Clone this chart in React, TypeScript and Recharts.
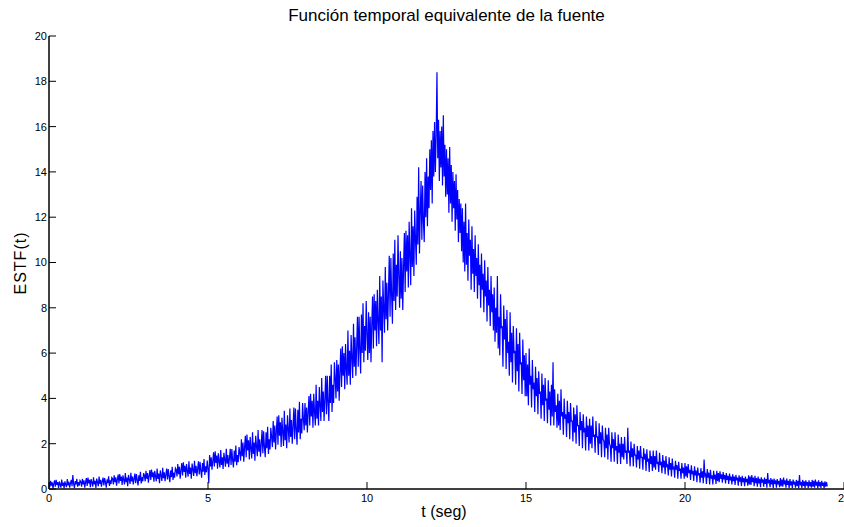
import { LineChart, Line, XAxis, YAxis } from 'recharts'

// sample step of the record (seconds)
const DT = 0.025

// ESTF(t), one row per second
const riseEarly = [
  0.25, 0.08, 0.36, 0.15, 0.3, 0.02, 0.24, 0.38, 0.1, 0.4, 0.18, 0.3, 0.05, 0.33, 0.2, 0.06, 0.42, 0.14, 0.28, 0.03,
  0.34, 0.2, 0.08, 0.44, 0.16, 0.32, 0.06, 0.26, 0.4, 0.12, 0.62, 0.22, 0.04, 0.35, 0.2, 0.45, 0.1, 0.3, 0.15, 0.38,
  0.32, 0.1, 0.45, 0.2, 0.38, 0.06, 0.3, 0.48, 0.14, 0.5, 0.25, 0.4, 0.08, 0.44, 0.28, 0.1, 0.52, 0.2, 0.36, 0.05,
  0.46, 0.3, 0.12, 0.55, 0.22, 0.4, 0.1, 0.34, 0.5, 0.16, 0.48, 0.3, 0.06, 0.42, 0.26, 0.56, 0.14, 0.38, 0.22, 0.5,
  0.45, 0.2, 0.6, 0.3, 0.52, 0.15, 0.42, 0.64, 0.25, 0.66, 0.36, 0.55, 0.18, 0.6, 0.4, 0.2, 0.7, 0.3, 0.5, 0.12,
  0.62, 0.42, 0.22, 0.72, 0.33, 0.55, 0.2, 0.46, 0.68, 0.26, 0.66, 0.4, 0.16, 0.6, 0.36, 0.76, 0.25, 0.52, 0.34, 0.7,
  0.6, 0.34, 0.8, 0.45, 0.7, 0.28, 0.58, 0.84, 0.4, 0.86, 0.52, 0.74, 0.32, 0.8, 0.56, 0.34, 0.9, 0.44, 0.68, 0.26,
  0.82, 0.6, 0.36, 0.94, 0.48, 0.74, 0.35, 0.64, 0.9, 0.42, 0.88, 0.56, 0.3, 0.82, 0.52, 0.98, 0.4, 0.72, 0.5, 0.92,
  0.85, 0.55, 1.1, 0.65, 0.98, 0.45, 0.82, 1.15, 0.6, 1.18, 0.75, 1.02, 0.5, 1.1, 0.8, 0.55, 1.22, 0.66, 0.95, 0.45,
  1.12, 0.85, 0.58, 1.25, 0.7, 1.02, 0.56, 0.9, 1.22, 0.64, 1.2, 0.8, 0.5, 1.15, 0.76, 1.32, 0.62, 1.0, 0.74, 1.26,
  0.9, 0.25, 1.5, 1.0, 1.4, 0.85, 1.22, 1.62, 1.0, 1.66, 1.15, 1.48, 0.9, 1.58, 1.22, 0.95, 1.72, 1.06, 1.4, 0.88,
  1.6, 1.3, 0.98, 1.78, 1.12, 1.5, 0.96, 1.36, 1.78, 1.06, 1.76, 1.26, 0.95, 1.7, 1.2, 1.92, 1.05, 1.5, 1.18, 1.85,
]

const riseLate = [
  1.6, 1.25, 2.2, 1.45, 2.05, 1.2, 1.85, 2.35, 1.4, 2.4, 1.7, 2.15, 1.3, 2.3, 1.8, 1.35, 2.5, 1.55, 2.05, 1.25,
  2.35, 1.9, 1.45, 2.6, 1.65, 2.2, 1.42, 2.0, 2.6, 1.58, 2.55, 1.85, 1.4, 2.5, 1.8, 2.75, 1.55, 2.2, 1.75, 2.7,
  2.3, 1.85, 3.0, 2.05, 2.8, 1.75, 2.55, 3.2, 1.95, 3.25, 2.35, 2.95, 1.85, 3.15, 2.5, 1.9, 3.45, 2.15, 2.85, 1.8,
  3.25, 2.65, 2.05, 3.55, 2.3, 3.05, 2.0, 2.8, 3.6, 2.2, 3.55, 2.6, 1.95, 3.5, 2.5, 3.85, 2.2, 3.1, 2.45, 3.8,
  3.1, 2.6, 3.8, 2.8, 3.6, 2.5, 3.4, 4.1, 2.8, 4.2, 3.2, 3.9, 2.7, 4.2, 3.4, 2.8, 4.6, 3.1, 3.9, 2.8,
  4.5, 3.7, 3.0, 4.9, 3.4, 4.3, 3.0, 4.0, 5.0, 3.3, 5.0, 3.8, 3.0, 5.0, 3.8, 5.5, 3.4, 4.6, 3.8, 5.6,
  4.9, 4.0, 5.7, 4.3, 5.5, 3.9, 5.2, 6.2, 4.5, 6.3, 5.0, 6.0, 4.4, 6.4, 5.3, 4.6, 7.0, 5.0, 6.1, 4.6,
  6.8, 5.8, 4.9, 7.3, 5.4, 6.7, 5.0, 6.3, 7.6, 5.4, 7.6, 6.1, 5.1, 7.7, 6.0, 8.2, 5.6, 7.2, 6.1, 8.3,
  6.9, 5.7, 7.8, 6.0, 7.6, 5.6, 7.3, 8.5, 6.2, 8.6, 7.0, 8.3, 6.3, 8.8, 7.4, 6.4, 9.4, 7.0, 8.5, 5.6,
  9.2, 8.0, 6.9, 9.8, 7.5, 9.1, 7.0, 8.7, 10.3, 7.6, 10.2, 8.5, 7.3, 10.4, 8.3, 11.0, 7.9, 9.9, 8.5, 11.2,
  9.4, 8.0, 10.5, 8.4, 10.2, 7.9, 9.8, 11.3, 8.7, 11.4, 9.6, 11.2, 8.9, 11.8, 10.3, 9.0, 12.4, 9.8, 11.6, 9.4,
  12.3, 11.0, 9.9, 12.9, 10.8, 14.2, 10.4, 12.2, 13.6, 11.0, 13.4, 11.8, 10.9, 14.0, 12.0, 14.6, 11.6, 13.8, 12.4, 15.0,
]

const peak = [
  13.2, 15.4, 12.6, 15.8, 13.8, 16.2, 14.0, 15.6, 18.4, 14.6, 16.3, 13.6, 15.8, 14.2, 16.0, 13.4, 16.5, 13.8, 15.2, 12.9,
  15.0, 13.0, 14.6, 12.2, 15.1, 12.6, 14.3, 11.8, 14.0, 12.4, 13.6, 11.4, 13.9, 11.9, 13.2, 10.9, 12.8, 11.3, 12.6, 10.5,
]

const decayEarly = [
  12.4, 10.0, 11.8, 9.6, 12.6, 9.9, 11.3, 9.2, 11.9, 10.3, 11.0, 8.8, 11.6, 9.5, 10.6, 8.7, 11.2, 9.4, 10.2, 8.4,
  10.8, 9.0, 9.9, 8.0, 10.4, 8.8, 9.5, 7.8, 10.1, 8.5, 9.2, 7.4, 9.8, 8.1, 8.8, 7.2, 9.4, 7.8, 8.6, 7.0,
  8.9, 6.5, 8.0, 6.9, 9.4, 6.2, 7.6, 5.9, 8.6, 7.1, 7.2, 5.4, 8.1, 6.6, 7.5, 5.3, 7.9, 6.0, 6.5, 5.0,
  7.8, 5.6, 6.9, 4.7, 7.2, 6.0, 6.1, 4.6, 7.1, 5.2, 6.4, 4.3, 6.9, 5.5, 5.6, 4.2, 6.6, 4.8, 5.9, 4.1,
  6.0, 4.1, 5.5, 3.7, 6.2, 4.6, 5.0, 3.6, 5.7, 4.4, 4.7, 3.4, 5.4, 4.1, 4.9, 3.3, 5.2, 4.2, 4.3, 3.1,
  5.1, 3.7, 4.6, 3.0, 4.9, 3.9, 4.0, 2.9, 4.8, 3.5, 4.3, 2.8, 4.6, 3.2, 5.6, 2.8, 4.4, 3.4, 3.7, 2.7,
  4.2, 2.8, 3.9, 2.6, 4.4, 3.2, 3.4, 2.4, 4.0, 3.1, 3.3, 2.3, 3.9, 2.9, 3.4, 2.2, 3.8, 3.0, 3.0, 2.1,
  3.6, 2.5, 3.3, 2.0, 3.7, 2.8, 2.8, 1.9, 3.4, 2.6, 3.0, 1.8, 3.3, 2.5, 2.7, 1.7, 3.2, 2.3, 2.8, 1.7,
  3.1, 2.0, 2.8, 1.8, 3.2, 2.3, 2.4, 1.6, 3.0, 2.3, 2.3, 1.5, 2.9, 2.0, 2.5, 1.4, 2.8, 2.2, 2.1, 1.4,
  2.7, 1.8, 2.4, 1.3, 2.7, 2.0, 1.9, 1.2, 2.5, 1.8, 2.2, 1.2, 2.5, 1.7, 1.9, 1.1, 2.4, 1.6, 2.0, 1.1,
]

const decayLate = [
  2.3, 1.4, 2.0, 1.3, 2.3, 1.6, 1.7, 1.1, 2.7, 1.6, 1.7, 1.0, 2.1, 1.4, 1.8, 1.0, 2.0, 1.5, 1.5, 0.95,
  1.9, 1.3, 1.7, 0.9, 1.9, 1.4, 1.4, 0.85, 1.8, 1.3, 1.55, 0.8, 1.75, 1.2, 1.35, 0.75, 1.7, 1.1, 1.45, 0.8,
  1.7, 0.95, 1.45, 0.85, 1.7, 1.1, 1.2, 0.75, 1.6, 1.05, 1.2, 0.7, 1.5, 0.95, 1.25, 0.65, 1.45, 1.0, 1.05, 0.6,
  1.4, 0.85, 1.15, 0.55, 1.35, 0.9, 0.95, 0.5, 1.25, 0.85, 1.05, 0.45, 1.2, 0.8, 0.9, 0.45, 1.15, 0.7, 0.95, 0.45,
  1.15, 0.55, 1.0, 0.5, 1.1, 0.7, 0.85, 0.4, 1.05, 0.65, 0.8, 0.35, 1.0, 0.6, 0.82, 0.3, 0.95, 0.6, 0.7, 0.28,
  0.92, 0.5, 0.78, 0.25, 1.3, 0.58, 0.65, 0.22, 0.88, 0.5, 0.72, 0.2, 0.85, 0.46, 0.6, 0.2, 0.8, 0.42, 0.64, 0.22,
  0.8, 0.35, 0.7, 0.3, 0.78, 0.45, 0.65, 0.28, 0.75, 0.42, 0.62, 0.25, 0.7, 0.4, 0.58, 0.22, 0.68, 0.38, 0.55, 0.2,
  0.65, 0.35, 0.55, 0.18, 0.62, 0.38, 0.5, 0.15, 0.6, 0.32, 0.52, 0.14, 0.58, 0.3, 0.48, 0.12, 0.55, 0.3, 0.45, 0.15,
  0.6, 0.2, 0.55, 0.18, 0.62, 0.3, 0.5, 0.12, 0.58, 0.26, 0.48, 0.1, 0.55, 0.25, 0.45, 0.08, 0.52, 0.28, 0.42, 0.1,
  0.5, 0.22, 0.44, 0.06, 0.7, 0.25, 0.4, 0.08, 0.48, 0.2, 0.42, 0.05, 0.46, 0.22, 0.38, 0.06, 0.44, 0.2, 0.36, 0.08,
  0.48, 0.12, 0.42, 0.1, 0.5, 0.2, 0.38, 0.06, 0.46, 0.18, 0.36, 0.04, 0.44, 0.16, 0.34, 0.05, 0.42, 0.2, 0.32, 0.06,
  0.4, 0.14, 0.36, 0.03, 0.62, 0.16, 0.32, 0.05, 0.4, 0.14, 0.34, 0.04, 0.38, 0.15, 0.3, 0.05, 0.38, 0.12, 0.3, 0.06,
  0.4, 0.1, 0.36, 0.06, 0.42, 0.15, 0.32, 0.04, 0.38, 0.12, 0.3, 0.05, 0.36, 0.14, 0.28, 0.03, 0.34, 0.1, 0.3, 0.12,
]

const xTicks = [0, 5, 10, 15, 20, 25]
const yTicks = [0, 2, 4, 6, 8, 10, 12, 14, 16, 18, 20]

const estf = [...riseEarly, ...riseLate, ...peak, ...decayEarly, ...decayLate]
const data = estf.map((v, i) => ({ t: i * DT, v }))

const font = 'Arial, "Liberation Sans", sans-serif'
const tickStyle = { fontSize: 11, fill: '#000', fontFamily: font }

export default function App() {
  return (
    <div style={{ position: 'absolute', left: 0, top: 0, width: 844, height: 527, background: '#fff', overflow: 'hidden' }}>
      <div
        style={{
          position: 'absolute', left: 49, width: 795, top: 6, textAlign: 'center',
          fontFamily: font, fontSize: 17, color: '#000',
        }}
      >
        Función temporal equivalente de la fuente
      </div>
      <div
        style={{
          position: 'absolute', left: 21, top: 263, transform: 'translate(-50%, -50%) rotate(-90deg)',
          fontFamily: font, fontSize: 16, color: '#000', whiteSpace: 'nowrap', letterSpacing: 1,
        }}
      >
        ESTF(t)
      </div>
      <div
        style={{
          position: 'absolute', left: 444, top: 512, transform: 'translate(-50%, -50%)',
          fontFamily: font, fontSize: 16, color: '#000', whiteSpace: 'nowrap',
        }}
      >
        t (seg)
      </div>
      <LineChart width={844} height={527} data={data} margin={{ top: 36, right: 0, bottom: 0, left: 9 }}>
        <XAxis
          xAxisId="bottom"
          type="number"
          dataKey="t"
          domain={[0, 25]}
          ticks={xTicks}
          allowDataOverflow
          height={38}
          tickSize={-7}
          tickMargin={12}
          axisLine={{ stroke: '#000', strokeWidth: 1.5 }}
          tickLine={{ stroke: '#000' }}
          tick={tickStyle}
          interval={0}
        />
        <XAxis
          xAxisId="top"
          orientation="top"
          type="number"
          dataKey="t"
          domain={[0, 25]}
          ticks={xTicks}
          allowDataOverflow
          height={0}
          tickSize={-7}
          tickFormatter={() => ''}
          axisLine={{ stroke: '#999' }}
          tickLine={{ stroke: '#000' }}
          interval={0}
        />
        <YAxis
          yAxisId="left"
          type="number"
          domain={[0, 20]}
          ticks={yTicks}
          width={40}
          tickSize={-7}
          tickMargin={9}
          axisLine={{ stroke: '#000', strokeWidth: 1.5 }}
          tickLine={{ stroke: '#000' }}
          tick={tickStyle}
          interval={0}
        />
        <YAxis
          yAxisId="right"
          orientation="right"
          type="number"
          domain={[0, 20]}
          ticks={yTicks}
          width={0}
          tickSize={-7}
          tickFormatter={() => ''}
          axisLine={false}
          tickLine={{ stroke: '#000' }}
          interval={0}
        />
        <Line
          xAxisId="bottom"
          yAxisId="left"
          type="linear"
          dataKey="v"
          stroke="#0000FF"
          strokeWidth={1.2}
          dot={false}
          isAnimationActive={false}
        />
      </LineChart>
    </div>
  )
}
